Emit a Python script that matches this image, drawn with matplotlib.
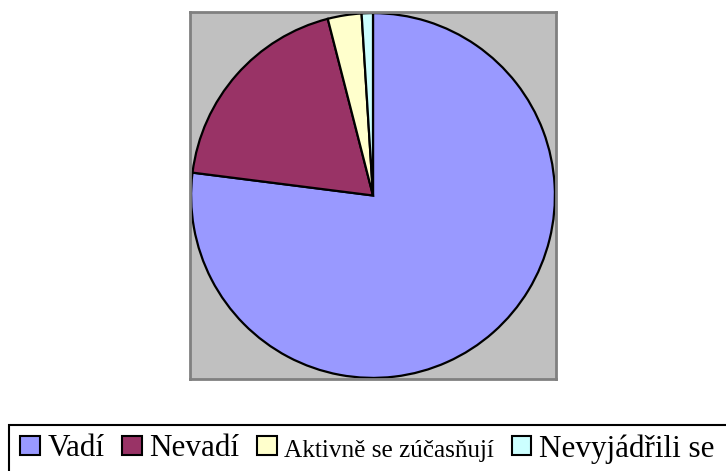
import matplotlib
matplotlib.use("Agg")
import matplotlib.pyplot as plt
from matplotlib.patches import Rectangle

# Data
labels = ["Vadí", "Nevadí", "Aktivně se zúčasňují", "Nevyjádřili se"]
values = [77, 19, 3, 1]
colors = ["#9999FF", "#993366", "#FFFFCC", "#CCFFFF"]

plt.rcParams["font.family"] = ["Liberation Serif", "DejaVu Serif"]

W, H = 726, 471
fig = plt.figure(figsize=(W / 100, H / 100), dpi=100)

# plot area (gray square)
ax = fig.add_axes([190 / W, 1 - 379 / H, 366 / W, 367 / H])
wedges, _ = ax.pie(values, colors=colors, startangle=90, counterclock=False,
                   wedgeprops=dict(edgecolor="black", linewidth=1.6))
ax.set_frame_on(True)
ax.set_facecolor("#C0C0C0")
ax.set_xlim(-1.006, 1.006)
ax.set_ylim(-1.006, 1.006)
ax.set_aspect("auto")
for sp in ax.spines.values():
    sp.set_color("#808080")
    sp.set_linewidth(2)

# legend box runs off the right and bottom edges in the original
fig.patches.append(Rectangle((9 / W, -0.2), 1.2, 1 - 425 / H + 0.2,
                             transform=fig.transFigure, facecolor="white",
                             edgecolor="black", linewidth=1.5, zorder=0))

leg = fig.legend(wedges, labels, loc="upper left", ncol=4,
                 bbox_to_anchor=(20 / W, 1 - 434 / H),
                 fontsize=22.4, frameon=False,
                 handlelength=0.64, handleheight=0.58,
                 handletextpad=0.24, columnspacing=0.56,
                 borderpad=0, borderaxespad=0)
for p in leg.get_patches():
    p.set_linewidth(1.5)
leg.get_texts()[2].set_fontsize(18.2)

plt.savefig("out.png", dpi=100)
